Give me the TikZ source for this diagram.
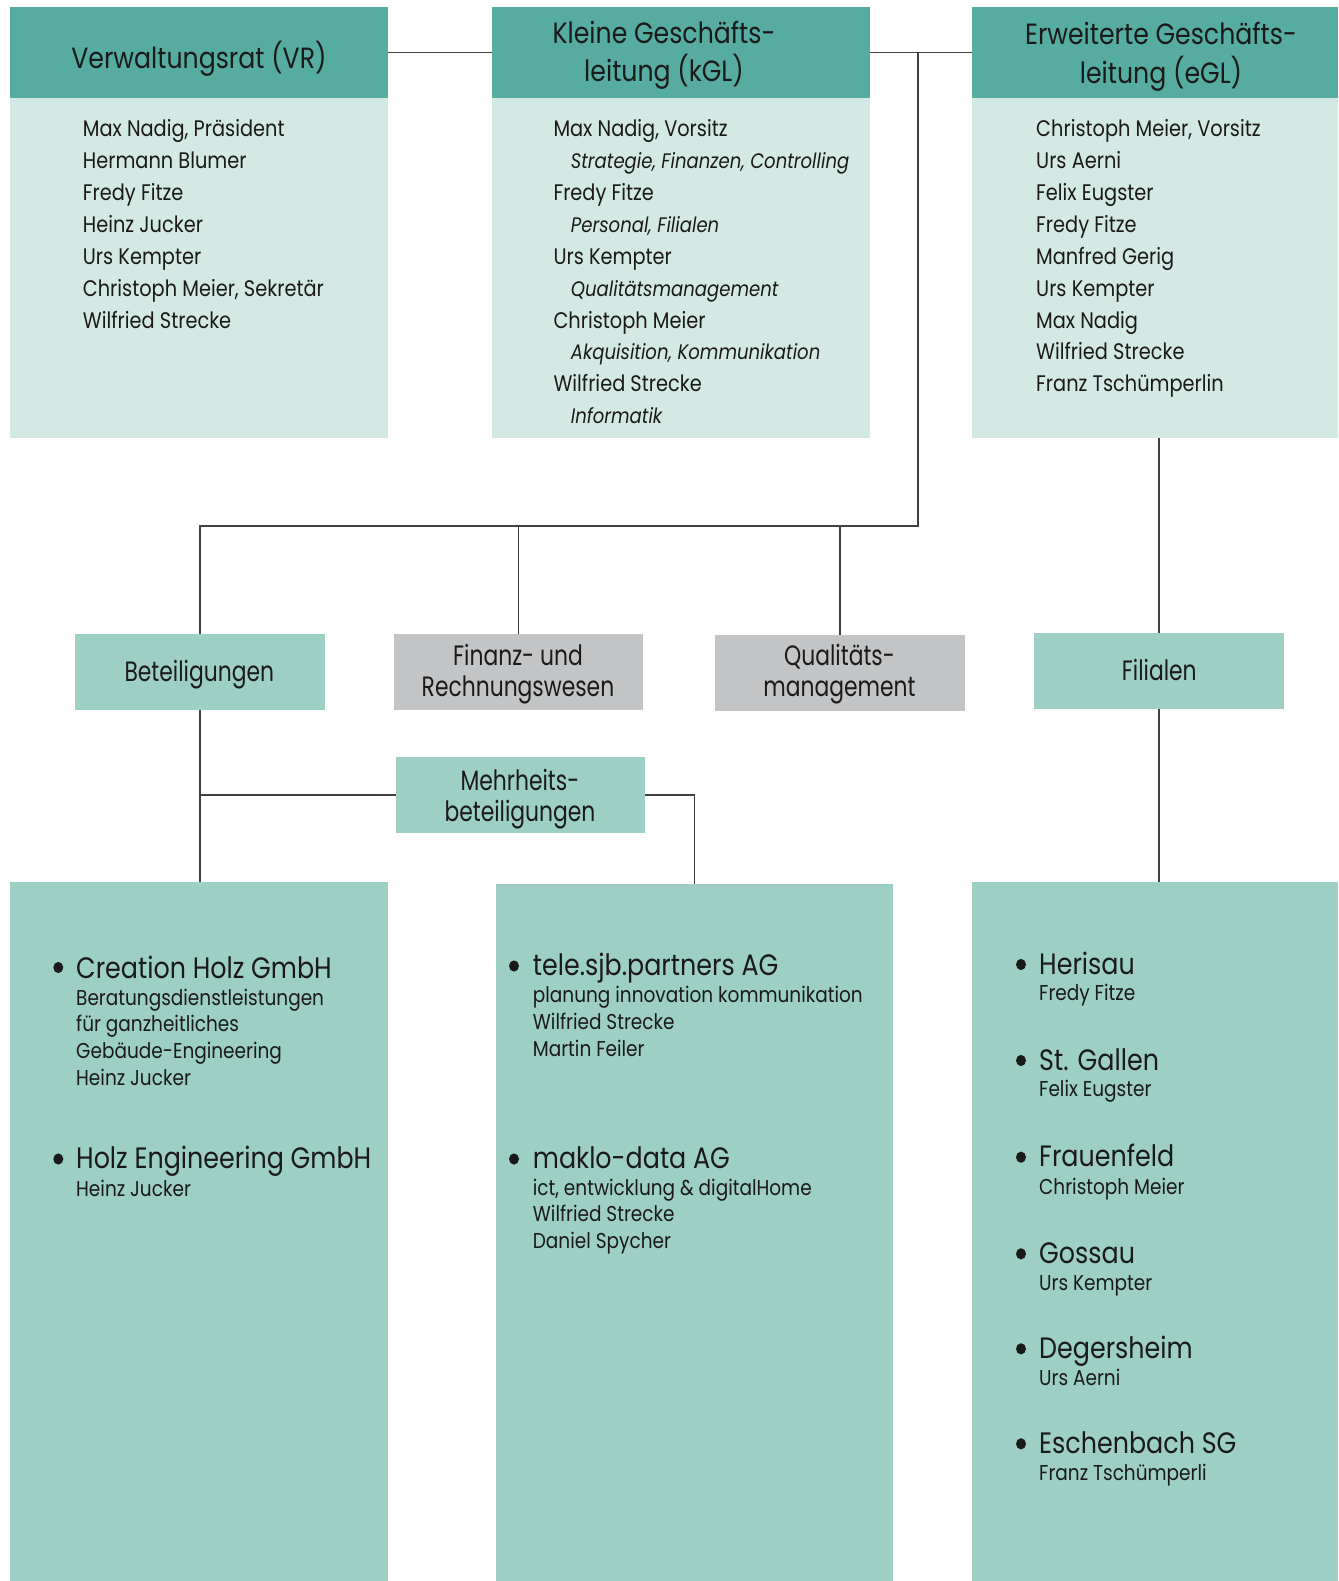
\documentclass[tikz,border=0pt]{standalone}
\usepackage{fontspec}
\setmainfont{Poppins}[FakeStretch=0.86]
\newfontfamily\condfont{Poppins}[FakeStretch=0.78]
\definecolor{hdrc}{HTML}{56ACA0}
\definecolor{litec}{HTML}{D3E9E4}
\definecolor{tealc}{HTML}{9DCFC4}
\definecolor{greyc}{HTML}{C3C4C6}
\definecolor{lnc}{HTML}{404040}
\definecolor{txtc}{HTML}{1A1A1A}
\begin{document}
\begin{tikzpicture}[x=1pt,y=-1pt,
  fillbox/.style={inner sep=0pt, outer sep=0pt, anchor=north west, draw=none},
  hdrbox/.style={fillbox, fill=hdrc},
  bodybox/.style={fillbox, fill=litec},
  tealbox/.style={fillbox, fill=tealc},
  greybox/.style={fillbox, fill=greyc},
  ttl/.style={anchor=base, inner sep=0pt, text=txtc, font=\fontsize{29.3}{39}\selectfont},
  lst/.style={anchor=base west, inner sep=0pt, text=txtc, font=\fontsize{22.5}{31.9}\selectfont},
  lbl/.style={anchor=base, inner sep=0pt, text=txtc, font=\condfont\fontsize{28}{31.7}\selectfont},
  btl/.style={anchor=base west, inner sep=0pt, text=txtc, font=\fontsize{29.5}{30}\selectfont},
  bsub/.style={anchor=base west, inner sep=0pt, text=txtc, font=\fontsize{21.5}{26.8}\selectfont},
  con/.style={draw=lnc, line width=1.3pt},
  dot/.style={fill=txtc}
]
\newcommand\itl[1]{\hspace*{17.4pt}{\fontsize{21}{31.9}\selectfont\itshape #1}}
\useasboundingbox (0,0) rectangle (1338,1581);

% boxes
\node[hdrbox, minimum width=378pt, minimum height=91pt] (vrh) at (10,7) {};
\node[bodybox, minimum width=378pt, minimum height=340pt] (vrb) at (10,98) {};
\node[hdrbox, minimum width=378pt, minimum height=91pt] (kglh) at (492,7) {};
\node[bodybox, minimum width=378pt, minimum height=340pt] (kglb) at (492,98) {};
\node[hdrbox, minimum width=366pt, minimum height=91pt] (eglh) at (972,7) {};
\node[bodybox, minimum width=366pt, minimum height=340pt] (eglb) at (972,98) {};
\node[tealbox, minimum width=250pt, minimum height=76pt] (bet) at (75,634) {};
\node[greybox, minimum width=249pt, minimum height=76pt] (fin) at (394,634) {};
\node[greybox, minimum width=250pt, minimum height=76pt] (qual) at (715,635) {};
\node[tealbox, minimum width=250pt, minimum height=76pt] (fil) at (1034,633) {};
\node[tealbox, minimum width=249pt, minimum height=76pt] (meh) at (396,757) {};
\node[tealbox, minimum width=378pt, minimum height=699pt] (botl) at (10,882) {};
\node[tealbox, minimum width=397pt, minimum height=697pt] (botm) at (496,884) {};
\node[tealbox, minimum width=366pt, minimum height=699pt] (botr) at (972,882) {};

% connectors
\coordinate (j1) at (918,52.5);
\coordinate (bus) at (918,526);
\draw[con] (vrh.east) -- (kglh.west);
\draw[con] (kglh.east) -- (eglh.west);
\draw[con] (j1) -- (bus) -| (bet.north);
\draw[con] (fin.north) -- (fin.north |- bus);
\draw[con] (qual.north) -- (qual.north |- bus);
\draw[con] (eglb.south -| fil.north) -- (fil.north);
\draw[con] (fil.south) -- (fil.south |- botr.north);
\draw[con] (bet.south) -- (bet.south |- botl.north);
\draw[con] (meh.west) -- (meh.west -| bet.south);
\draw[con] (meh.east) -| (botm.north);

% header titles
\node[ttl] (vrt) at (199,68.3) {Verwaltungsrat (VR)};
\node[ttl] (kglt1) at (664,43.3) {Kleine Geschäfts-};
\node[ttl] (kglt2) at (664,81.7) {leitung (kGL)};
\node[ttl] (eglt1) at (1161,45) {Erweiterte Geschäfts-};
\node[ttl] (eglt2) at (1161,83.3) {leitung (eGL)};

% member lists
\node[lst] (vrl) at (82.7,136.7) {\begin{tabular}[t]{@{}l@{}}Max Nadig, Präsident\\Hermann Blumer\\Fredy Fitze\\Heinz Jucker\\Urs Kempter\\Christoph Meier, Sekretär\\Wilfried Strecke\end{tabular}};
\node[lst] (kgll) at (553.3,136.7) {\begin{tabular}[t]{@{}l@{}}Max Nadig, Vorsitz\\\itl{Strategie, Finanzen, Controlling}\\Fredy Fitze\\\itl{Personal, Filialen}\\Urs Kempter\\\itl{Qualitätsmanagement}\\Christoph Meier\\\itl{Akquisition, Kommunikation}\\Wilfried Strecke\\\itl{Informatik}\end{tabular}};
\node[lst] (egll) at (1036,136.7) {\begin{tabular}[t]{@{}l@{}}Christoph Meier, Vorsitz\\Urs Aerni\\Felix Eugster\\Fredy Fitze\\Manfred Gerig\\Urs Kempter\\Max Nadig\\Wilfried Strecke\\Franz Tschümperlin\end{tabular}};

% middle labels
\node[lbl] (betl) at (199.3,681.7) {Beteiligungen};
\node[lbl] (finl1) at (518,665) {Finanz- und};
\node[lbl] (finl2) at (518,696.7) {Rechnungswesen};
\node[lbl] (quall1) at (839.5,665.7) {Qualitäts-};
\node[lbl] (quall2) at (839.5,696.7) {management};
\node[lbl] (fill) at (1159.3,680) {Filialen};
\node[lbl] (mehl1) at (520,790) {Mehrheits-};
\node[lbl] (mehl2) at (520,821.7) {beteiligungen};

% bottom left
\fill[dot] (58.3,967.5) ellipse [x radius=5pt, y radius=5.6pt];
\node[btl] (c1) at (76,978.3) {Creation Holz GmbH};
\node[bsub] (c1s) at (76,1005) {\begin{tabular}[t]{@{}l@{}}Beratungsdienstleistungen\\für ganzheitliches\\Gebäude-Engineering\\Heinz Jucker\end{tabular}};
\fill[dot] (58.3,1159) ellipse [x radius=5pt, y radius=5.6pt];
\node[btl] (c2) at (76,1168.3) {Holz Engineering GmbH};
\node[bsub] (c2s) at (76,1196.7) {Heinz Jucker};

% bottom middle
\fill[dot] (514,966) ellipse [x radius=5pt, y radius=5.6pt];
\node[btl] (m1) at (532.7,975) {tele.sjb.partners AG};
\node[bsub] (m1s) at (532.7,1002.7) {\begin{tabular}[t]{@{}l@{}}planung innovation kommunikation\\Wilfried Strecke\\Martin Feiler\end{tabular}};
\fill[dot] (514,1159) ellipse [x radius=5pt, y radius=5.6pt];
\node[btl] (m2) at (532.7,1168.3) {maklo-data AG};
\node[bsub] (m2s) at (532.7,1195) {\begin{tabular}[t]{@{}l@{}}ict, entwicklung \& digitalHome\\Wilfried Strecke\\Daniel Spycher\end{tabular}};

% bottom right
\fill[dot] (1021,964.5) ellipse [x radius=5pt, y radius=5.6pt];
\node[btl] (r1) at (1039,974) {Herisau};
\node[bsub] (r1s) at (1039,1000.7) {Fredy Fitze};
\fill[dot] (1021,1060.5) ellipse [x radius=5pt, y radius=5.6pt];
\node[btl] (r2) at (1039,1070) {St. Gallen};
\node[bsub] (r2s) at (1039,1096.7) {Felix Eugster};
\fill[dot] (1021,1157.2) ellipse [x radius=5pt, y radius=5.6pt];
\node[btl] (r3) at (1039,1166.7) {Frauenfeld};
\node[bsub] (r3s) at (1039,1194) {Christoph Meier};
\fill[dot] (1021,1253.8) ellipse [x radius=5pt, y radius=5.6pt];
\node[btl] (r4) at (1039,1263.3) {Gossau};
\node[bsub] (r4s) at (1039,1290.7) {Urs Kempter};
\fill[dot] (1021,1348.8) ellipse [x radius=5pt, y radius=5.6pt];
\node[btl] (r5) at (1039,1358.3) {Degersheim};
\node[bsub] (r5s) at (1039,1385.7) {Urs Aerni};
\fill[dot] (1021,1443.8) ellipse [x radius=5pt, y radius=5.6pt];
\node[btl] (r6) at (1039,1453.3) {Eschenbach SG};
\node[bsub] (r6s) at (1039,1480) {Franz Tschümperli};
\end{tikzpicture}
\end{document}
